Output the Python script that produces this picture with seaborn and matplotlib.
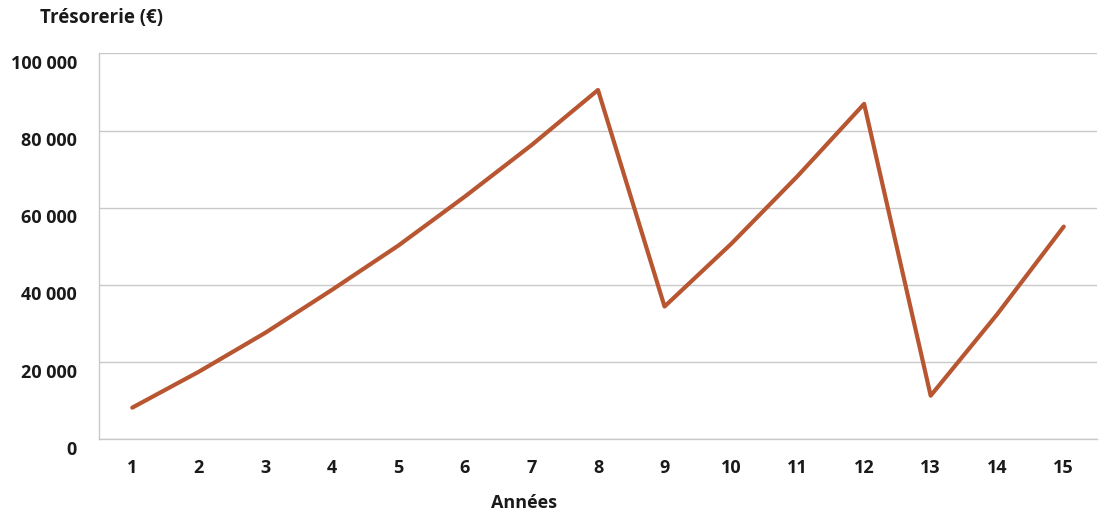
import matplotlib
matplotlib.use("Agg")
import matplotlib.pyplot as plt
from matplotlib.ticker import FuncFormatter, MultipleLocator
from matplotlib.transforms import ScaledTranslation
import pandas as pd
import seaborn as sns

# Cash position at the end of each year
annees = list(range(1, 16))
tresorerie = [8200, 17500, 27600, 38700, 50200, 62900, 76200, 90500,
              34400, 50600, 68200, 86900, 11300, 32400, 55100]

df = pd.DataFrame({"Années": annees, "Trésorerie": tresorerie})

sns.set_theme(style="whitegrid")
plt.rcParams["font.family"] = ["Open Sans", "DejaVu Sans"]

text_color = "#1a1a1a"
grid_color = "#c9c9c9"
line_color = "#B85632"
fs = 13

fig = plt.figure(figsize=(11.02, 5.12), dpi=100)
ax = fig.add_axes([99 / 1102, (512 - 439.3) / 512, 998 / 1102, 386 / 512])

sns.lineplot(data=df, x="Années", y="Trésorerie", ax=ax,
             color=line_color, linewidth=3.0)

ax.set_xlim(0.5, 15.5)
ax.set_ylim(0, 100000)
ax.set_xticks(annees)
ax.yaxis.set_major_locator(MultipleLocator(20000))
ax.yaxis.set_major_formatter(
    FuncFormatter(lambda v, _: f"{int(v):,}".replace(",", " ")))

ax.grid(axis="y", color=grid_color, linewidth=1.0)
ax.grid(axis="x", visible=False)
for side in ("top", "right"):
    ax.spines[side].set_visible(False)
for side in ("left", "bottom"):
    ax.spines[side].set_visible(True)
    ax.spines[side].set_color(grid_color)
    ax.spines[side].set_linewidth(1.0)

ax.tick_params(axis="both", length=0, labelsize=fs, labelcolor=text_color)
ax.tick_params(axis="y", pad=16)
ax.tick_params(axis="x", pad=14)
for lab in ax.get_yticklabels() + ax.get_xticklabels():
    lab.set_fontweight("bold")
for lab in ax.get_yticklabels():
    lab.set_transform(lab.get_transform()
                      + ScaledTranslation(0, -8.5 / 100, fig.dpi_scale_trans))

ax.set_xlabel("")
ax.set_ylabel("")

fig.text(40 / 1102, 1 - 18 / 512, "Trésorerie (€)", ha="left", va="center",
         fontsize=fs + 0.5, fontweight="bold", color=text_color)
fig.text(524 / 1102, 1 - 503 / 512, "Années", ha="center", va="center",
         fontsize=fs, fontweight="bold", color=text_color)

fig.savefig("out.png", dpi=100, facecolor="white")
